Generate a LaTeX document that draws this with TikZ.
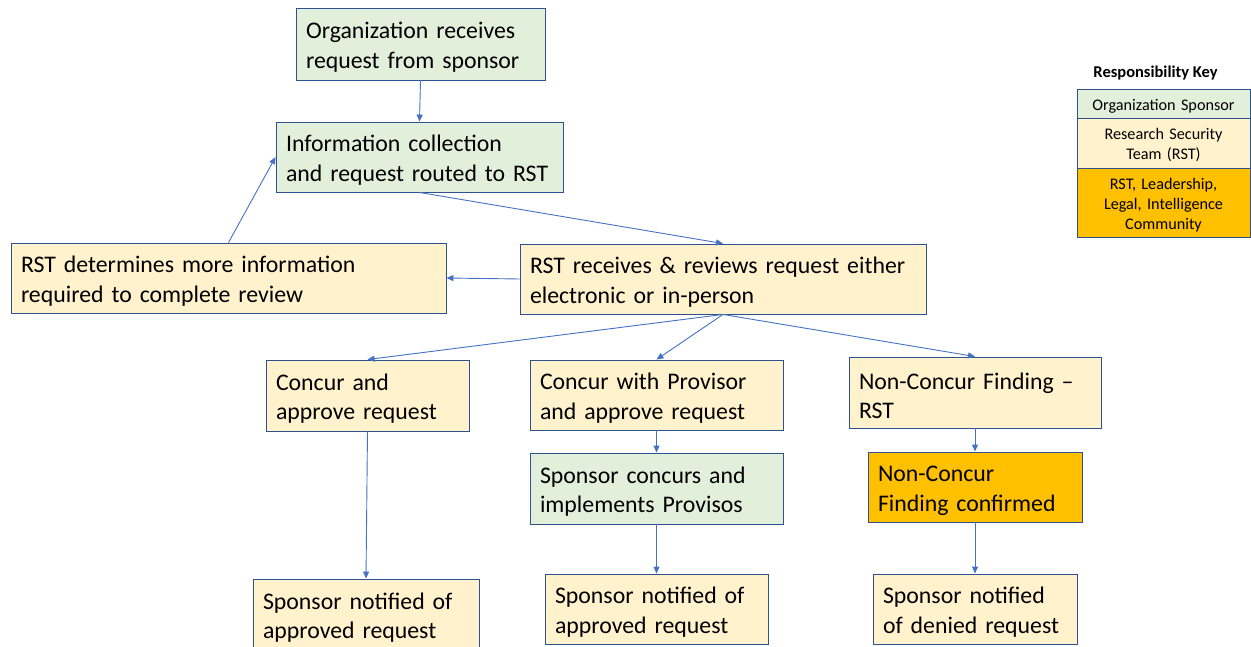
\documentclass[tikz,border=0pt]{standalone}
\usepackage{fontspec}
\setmainfont{Carlito}
\usetikzlibrary{arrows.meta}
\definecolor{bordc}{HTML}{2F528F}
\definecolor{arrc}{HTML}{4472C4}
\definecolor{grn}{HTML}{E2EFDA}
\definecolor{ylw}{HTML}{FFF2CC}
\definecolor{org}{HTML}{FFC000}
\tikzset{
  bx/.style={draw=bordc, line width=0.9pt, rectangle, inner xsep=10pt, inner ysep=0pt,
    align=left, font=\fontsize{23.8}{29.3}\selectfont, execute at begin node={\rule{0pt}{23pt}}},
  gbox/.style={bx, fill=grn},
  ybox/.style={bx, fill=ylw},
  obox/.style={bx, fill=org},
  conn/.style={draw=arrc, line width=0.9pt, -{Triangle[length=7pt,width=6pt]}},
  keyb/.style={draw=bordc, line width=0.9pt, rectangle, align=center, inner sep=0pt,
    minimum width=173pt, text width=170pt, font=\fontsize{16.2}{20}\selectfont,
    execute at begin node={\rule{0pt}{16pt}}}
}
\begin{document}
\begin{tikzpicture}[x=1pt,y=-1pt]
\useasboundingbox (0,0) rectangle (1251,647);
\node[gbox, text width=229pt, minimum height=72pt] (top) at (420.5,44) {Organization receives\\request from sponsor};
\node[gbox, text width=267pt, minimum height=70pt] (info) at (419.5,157) {Information collection\\and request routed to RST};
\node[ybox, text width=415pt, minimum height=70pt] (det) at (228.5,278) {RST determines more information\\required to complete review};
\node[ybox, text width=386pt, minimum height=70pt] (recv) at (723,279) {RST receives \& reviews request either\\electronic or in-person};
\node[ybox, text width=183pt, minimum height=71pt] (conc) at (367.5,395.5) {Concur and\\approve request};
\node[ybox, text width=233pt, minimum height=70pt] (prov) at (656.5,395) {Concur with Provisor\\and approve request};
\node[ybox, text width=232pt, minimum height=71pt] (ncon) at (975,392.5) {Non-Concur Finding --\\RST};
\node[gbox, text width=233pt, minimum height=71pt] (spcon) at (656.5,488.5) {Sponsor concurs and\\implements Provisos};
\node[obox, text width=194pt, minimum height=70pt] (conf) at (975,487) {Non-Concur\\Finding confirmed};
\node[ybox, text width=206pt, minimum height=71pt] (notl) at (366,614.5) {Sponsor notified of\\approved request};
\node[ybox, text width=203pt, minimum height=70pt] (notm) at (656.5,609) {Sponsor notified of\\approved request};
\node[ybox, text width=184pt, minimum height=70pt] (notr) at (975,609) {Sponsor notified\\of denied request};

\draw[conn] (top.south) -- (info.north);
\draw[conn] (info.south) -- (recv.north);
\draw[conn] (det.north) -- (info.west);
\draw[conn] (recv.west) -- (det.east);
\draw[conn] (recv.south) -- (conc.north);
\draw[conn] (recv.south) -- (prov.north);
\draw[conn] (recv.south) -- (ncon.north);
\draw[conn] (conc.south) -- (notl.north);
\draw[conn] (prov.south) -- (spcon.north);
\draw[conn] (spcon.south) -- (notm.north);
\draw[conn] (ncon.south) -- (conf.north);
\draw[conn] (conf.south) -- (notr.north);

\node[font=\fontsize{16.5}{20}\selectfont\bfseries] (keyt) at (1155.5,73) {Responsibility Key};
\node[keyb, fill=grn, minimum height=29pt] (k1) at (1163.5,103.5) {Organization Sponsor};
\node[keyb, fill=ylw, minimum height=50pt] (k2) at (1163.5,143) {Research Security\\Team (RST)};
\node[keyb, fill=org, minimum height=69pt] (k3) at (1163.5,202.5) {RST, Leadership,\\Legal, Intelligence\\Community};
\end{tikzpicture}
\end{document}
